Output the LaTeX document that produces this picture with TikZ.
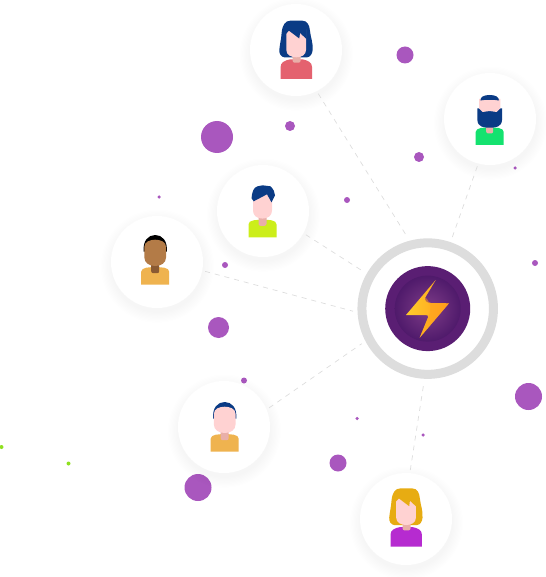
\documentclass[tikz,border=0pt]{standalone}
\usepackage{xcolor}
\usetikzlibrary{shadows,fadings}
\definecolor{navyhair}{HTML}{0A3B85}
\definecolor{goldhair}{HTML}{E7AC12}
\definecolor{skinface}{HTML}{FFD2D2}
\definecolor{skinneck}{HTML}{E9AFA9}
\definecolor{darkface}{HTML}{B37B47}
\definecolor{darkneck}{HTML}{8A5A33}
\definecolor{rosetop}{HTML}{E4626F}
\definecolor{violettop}{HTML}{B62BD0}
\definecolor{mint}{HTML}{14E26F}
\definecolor{limetop}{HTML}{CCEE1A}
\definecolor{sandtop}{HTML}{EFB34F}
\definecolor{dotpurple}{HTML}{A957BE}
\definecolor{dotgreen}{HTML}{8FE01F}
\definecolor{ringgray}{HTML}{DDDDDD}
\definecolor{corepurple}{HTML}{5A1E73}
\definecolor{coreplum}{HTML}{7E3C88}
\definecolor{coreedge}{HTML}{4F1A6B}
\definecolor{boltyellow}{HTML}{FFCB2B}
\definecolor{boltorange}{HTML}{FF9F1C}
\tikzset{
  avatar/.style={
    circle,
    draw=none,
    fill=white,
    minimum size=92pt,
    inner sep=0pt,
    outer sep=3pt,
    general shadow={shadow xshift=0pt, shadow yshift=-3pt, shadow scale=1.24, fill=black, opacity=.035,
      path fading={circle with fuzzy edge 20 percent}},
  },
  hubring/.style={
    circle,
    draw=ringgray,
    fill=white,
    line width=9pt,
    minimum size=131.5pt,
    inner sep=0pt,
    outer sep=9pt,
  },
  hubdisc/.style={circle, fill=corepurple, minimum size=85pt, inner sep=0pt},
  hubglow/.style={circle, inner color=coreplum, outer color=coreedge, minimum size=66pt, inner sep=0pt},
  spot/.style={circle, fill=dotpurple, inner sep=0pt},
  tinyspot/.style={circle, fill=dotgreen, inner sep=0pt, minimum size=4pt},
  link/.style={draw=ringgray, line width=0.7pt, dash pattern=on 5pt off 5pt},
  % long hair, neck and face
  lady/.pic={
    \fill[pic actions] (-6,-58.3) -- (6,-58.3) .. controls (11,-58.3) and (13.2,-54) .. (13.7,-48)
      .. controls (14.2,-42) and (17,-36) .. (16.3,-29) .. controls (16,-25) and (14,-22) .. (11,-21.7) -- (-12,-21.7)
      .. controls (-15,-22) and (-17.3,-25) .. (-17,-29) .. controls (-16.5,-35) and (-15,-40) .. (-14.7,-46)
      .. controls (-14,-54) and (-11,-58.3) .. (-6,-58.3) -- cycle;
    \fill[skinneck,rounded corners=2pt] (-3.7,-25) rectangle (4.3,-16.3);
    \fill[skinface] (-10,-50) -- (9.7,-50) -- (9.7,-29) .. controls (9.7,-24) and (5,-21.7) .. (0,-21.7)
      .. controls (-5,-21.7) and (-10,-24) .. (-10,-29) -- cycle;
  },
  ladyfringe/.pic={
    \fill[pic actions] (-10.5,-45) -- (-7.3,-48.3) -- (3,-40.5) -- (3.7,-46) -- (10.2,-40) -- (10.2,-55) -- (-10.5,-55) -- cycle;
  },
  ladytop/.pic={
    \fill[pic actions] (-15.7,0) -- (-15.7,-12) .. controls (-15.7,-16.5) and (-12,-18.5) .. (-6,-19.7) -- (6,-19.7)
      .. controls (12,-18.5) and (15.7,-16.5) .. (15.7,-12) -- (15.7,0) -- cycle;
  },
  % squarer shirt
  guy/.pic={
    \fill[pic actions] (-14,0) -- (-14,-13) .. controls (-14,-15.5) and (-12,-16) .. (-9,-17)
      -- (-4,-17.5) -- (4,-17.5) -- (9,-17) .. controls (12,-16) and (14,-15.5) .. (14,-13) -- (14,0) -- cycle;
  },
  shorthair/.pic={
    \fill[pic actions] (-11.6,-33) .. controls (-12.5,-44) and (-7,-49.7) .. (0,-49.7)
      .. controls (7,-49.7) and (12.5,-44) .. (11.6,-33) -- cycle;
  },
}
\newcommand{\guyhead}[3]{
  \fill[#2,rounded corners=2pt] (-4,-22) rectangle (4,-11.5);
  \fill[#1] (-#3,-38) .. controls (-#3,-43) and (-5,-45) .. (0,-45) .. controls (5,-45) and (#3,-43) .. (#3,-38)
    -- (#3,-27) .. controls (#3,-22) and (6,-18.7) .. (0,-18.7)
    .. controls (-6,-18.7) and (-#3,-22) .. (-#3,-27) -- cycle;
}
\begin{document}
\begin{tikzpicture}[x=1pt,y=-1pt]
  \useasboundingbox (0,0) rectangle (545,577);

  % decoration
  \foreach \x/\y/\d [count=\i] in {405/55/17, 290/126/10, 217/137/32, 419/157/10, 515/168/3.5,
      159/197/3.5, 347/200/6, 225/265/6, 535/263/6, 218.5/327.5/21, 244/380.5/6, 528.5/396.5/27,
      357/418.5/3.5, 423/435/3.5, 338/463/17, 198/487.5/27}
    \node[spot,minimum size=\d pt] (dot\i) at (\x,\y) {};
  \node[tinyspot] (seedA) at (1.5,447) {};
  \node[tinyspot] (seedB) at (68.5,463.5) {};

  % people
  \node[avatar] (bluelady) at (296,50) {};
  \node[avatar] (beard) at (490,119) {};
  \node[avatar] (limeguy) at (263,211) {};
  \node[avatar] (darkguy) at (157,262) {};
  \node[avatar] (sandguy) at (224,427) {};
  \node[avatar] (goldlady) at (406,519) {};

  % hub
  \node[hubring] (hub) at (427.7,308.6) {};
  \node[hubdisc] (disc) at (hub) {};
  \node[hubglow] (glow) at (hub) {};

  \draw[link] (bluelady.-63) -- (hub.106);
  \draw[link] (beard.-105) -- (hub.71);
  \draw[link] (limeguy.-29) -- (hub.150);
  \draw[link] (darkguy.-11) -- (hub.182);
  \draw[link] (sandguy.23) -- (hub.208);
  \draw[link] (goldlady.85) -- (hub.267);

  % bolt
  \shade[left color=boltyellow, right color=boltorange]
    (435.7,280) -- (406,315) -- (426,315) .. controls (428,315) and (428.6,316) .. (428,317.5)
    -- (419.7,337.7) -- (449,303.3) -- (431,303) .. controls (426,302.5) and (424.5,300.5) .. (425.3,297.5) -- cycle;
  \fill[boltorange,opacity=.5] (425.3,297.5) .. controls (424.5,300.5) and (426,302.5) .. (431,303) -- (449,303.3)
    -- (419.7,337.7) -- (428,317.5) .. controls (431,312) and (432,303) .. (425.3,297.5) -- cycle;

  % figures
  \begin{scope}[shift={(296.3,79)}]
    \pic[fill=rosetop] {ladytop};
    \pic[fill=navyhair] {lady};
    \pic[fill=navyhair] {ladyfringe};
  \end{scope}
  \begin{scope}[shift={(406.2,546.7)}]
    \pic[fill=violettop] {ladytop};
    \pic[fill=goldhair] {lady};
    \pic[fill=goldhair] {ladyfringe};
  \end{scope}
  \begin{scope}[shift={(489.7,145)}]
    \pic[fill=mint] {guy};
    \fill[skinneck,rounded corners=2pt] (-3.5,-20) rectangle (3.5,-11.5);
    \fill[navyhair] (-12.3,-36.7) -- (-12.3,-25) .. controls (-12,-18) and (-6,-17.3) .. (0,-17.3)
      .. controls (6,-17.3) and (12,-18) .. (12.3,-25) -- (12.3,-36.7) -- cycle;
    \fill[skinface] (-10.7,-46) -- (10.7,-46) -- (10.7,-36.7) -- (7,-33) -- (0,-34) -- (-7,-33) -- (-10.7,-36.7) -- cycle;
    \fill[navyhair] (-9.3,-44.5) .. controls (-9.3,-48) and (-6,-50) .. (0,-50) .. controls (6,-50) and (9.3,-48) .. (9.3,-44.5)
      .. controls (5,-45.5) and (-5,-45.5) .. (-9.3,-44.5) -- cycle;
  \end{scope}
  \begin{scope}[shift={(262.5,237.3)}]
    \pic[fill=limetop] {guy};
    \guyhead{skinface}{skinneck}{9.5}
    \fill[navyhair] (-11,-39) .. controls (-10.5,-45) and (-9,-50) .. (-5,-51) -- (0,-52) -- (8,-51) .. controls (11,-48) and (12.5,-45) .. (12.5,-42)
      -- (9,-35) -- (4.5,-43) -- (-8.8,-36) -- cycle;
  \end{scope}
  \begin{scope}[shift={(155.2,284.7)}]
    \pic[fill=sandtop] {guy};
    \pic[fill=black] {shorthair};
    \guyhead{darkface}{darkneck}{10.8}
  \end{scope}
  \begin{scope}[shift={(224.7,451.7)}]
    \pic[fill=sandtop] {guy};
    \pic[fill=navyhair] {shorthair};
    \guyhead{skinface}{skinneck}{10.8}
  \end{scope}
\end{tikzpicture}
\end{document}
